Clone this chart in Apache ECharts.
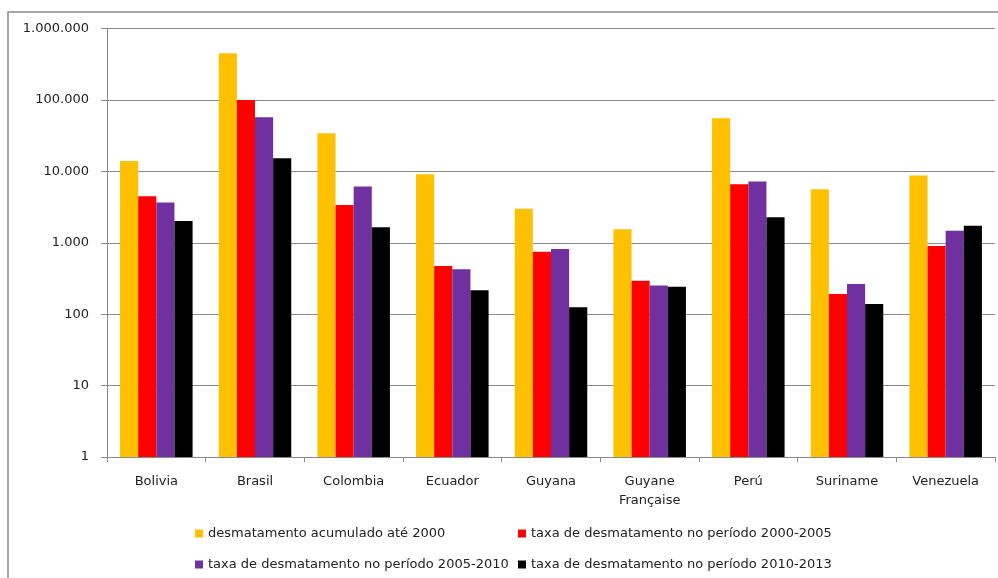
<!DOCTYPE html>
<html>
<head>
<meta charset="utf-8">
<script src="https://cdn.jsdelivr.net/npm/echarts@6/dist/echarts.min.js"></script>
<style>
  html, body { margin: 0; padding: 0; background: #fff; }
  #chart { width: 998px; height: 578px; }
</style>
</head>
<body>
<div id="chart"></div>
<script>
const countries = ['Bolivia', 'Brasil', 'Colombia', 'Ecuador', 'Guyana', 'Guyane\nFrançaise', 'Perú', 'Suriname', 'Venezuela']
const seriesNames = [
  'desmatamento acumulado até 2000',
  'taxa de desmatamento no período 2000-2005',
  'taxa de desmatamento no período 2005-2010',
  'taxa de desmatamento no período 2010-2013'
]
const accum2000 = [14000, 451000, 34200, 9100, 3000, 1545, 55400, 5610, 8710]
const rate0005 = [4480, 99500, 3380, 473, 751, 294, 6590, 192, 902]
const rate0510 = [3650, 57300, 6110, 425, 819, 251, 7180, 265, 1477]
const rate1013 = [2020, 15250, 1650, 216, 125, 243, 2276, 139, 1734]
const colors = ['#FFC000', '#FF0000', '#7030A0', '#000000']

const font = 'DejaVu Sans'
const chart = echarts.init(document.getElementById('chart'))

const fmt = (v) => String(Math.round(v)).replace(/\B(?=(\d{3})+(?!\d))/g, '.')

const legendText = { color: '#222', fontSize: 13, fontFamily: font }

chart.setOption({
  animation: false,
  color: colors,
  graphic: [
    {
      type: 'rect',
      shape: { x: 8, y: 12, width: 1100, height: 700 },
      style: { fill: 'none', stroke: '#8a8a8a', lineWidth: 1.5 },
      silent: true
    }
  ],
  grid: { left: 107, right: 3, top: 28.5, bottom: 121 },
  legend: [
    {
      data: [seriesNames[0], seriesNames[2]],
      orient: 'vertical',
      left: 190,
      top: 522,
      itemWidth: 8,
      itemHeight: 8,
      itemGap: 18,
      icon: 'rect',
      textStyle: legendText,
      selectedMode: false
    },
    {
      data: [seriesNames[1], seriesNames[3]],
      orient: 'vertical',
      left: 513,
      top: 522,
      itemWidth: 8,
      itemHeight: 8,
      itemGap: 18,
      icon: 'rect',
      textStyle: legendText,
      selectedMode: false
    }
  ],
  xAxis: {
    type: 'category',
    data: countries,
    axisLine: { lineStyle: { color: '#8a8a8a', width: 1 } },
    axisTick: { show: true, length: 5, lineStyle: { color: '#8a8a8a' } },
    axisLabel: {
      color: '#222',
      fontSize: 13,
      fontFamily: font,
      margin: 15,
      lineHeight: 19,
      interval: 0
    }
  },
  yAxis: {
    type: 'log',
    logBase: 10,
    min: 1,
    max: 1000000,
    axisLine: { show: true, lineStyle: { color: '#8a8a8a', width: 1 } },
    axisTick: { show: true, length: 6, lineStyle: { color: '#8a8a8a' } },
    minorTick: { show: false },
    splitLine: { show: true, lineStyle: { color: '#8a8a8a', width: 1 } },
    axisLabel: {
      color: '#222',
      fontSize: 13,
      fontFamily: font,
      margin: 18,
      formatter: fmt
    }
  },
  series: [accum2000, rate0005, rate0510, rate1013].map((vals, i) => ({
    name: seriesNames[i],
    type: 'bar',
    data: vals,
    barGap: '0%',
    barCategoryGap: '26.5%',
    itemStyle: { color: colors[i] }
  }))
})
</script>
</body>
</html>
